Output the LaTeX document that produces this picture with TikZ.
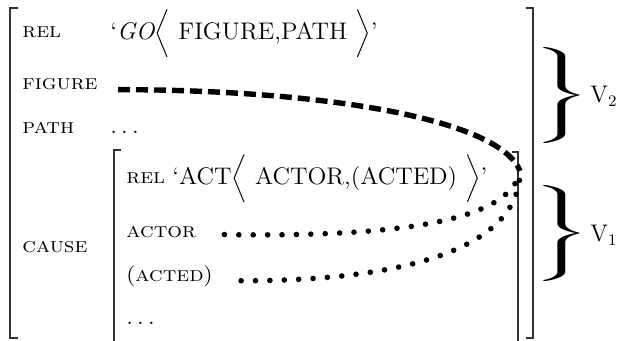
\documentclass[tikz,border=0pt]{standalone}
\usepackage{tikz}
\usetikzlibrary{positioning}
\tikzset{
  attrName/.style={font=\fontsize{10.5}{12.6}\selectfont, xscale=1.1, inner sep=0pt, anchor=base west},
  attrValue/.style={font=\fontsize{12}{14.4}\selectfont, xscale=1.03, inner sep=0pt, anchor=base west},
  bracketLine/.style={line width=0.6pt, black!80},
  braceNode/.style={font=\fontsize{10}{12}\selectfont, xscale=3.3, inner sep=0pt},
  vLabel/.style={font=\fontsize{12}{14}\selectfont, inner sep=0pt, anchor=base west},
  goLine/.style={line width=2.7pt, dash pattern=on 6pt off 3pt},
  actLine/.style={line width=2.8pt, line cap=round, dash pattern=on 0pt off 7.2pt}
}
\begin{document}
\begin{tikzpicture}[x=0.5pt, y=-0.5pt]
\useasboundingbox (0,0) rectangle (623,341);
% outer matrix
\draw[bracketLine] (18,8) -- (10,8) -- (10,338) -- (18,338);
\draw[bracketLine] (526,8) -- (533,8) -- (533,338) -- (526,338);
\node[attrName] (goRel) at (22,38) {\textsc{rel}};
\node[attrValue] (goVal) at (110,40) {`\textit{GO}$\bigg\langle$ FIGURE,PATH $\bigg\rangle$'};
\node[attrName] (figure) at (22,90) {\textsc{figure}};
\node[attrName] (path) at (22,134) {\textsc{path}};
\node[attrValue] (pathVal) at (110,134) {$\ldots$};
\node[attrName] (cause) at (22,253) {\textsc{cause}};
% inner matrix
\draw[bracketLine] (121,150) -- (114,150) -- (114,345);
\draw[bracketLine] (512,152) -- (518,152) -- (518,345);
\node[attrName] (actRel) at (126,184) {\textsc{rel}};
\node[attrValue] (actVal) at (172,185) {`ACT$\bigg\langle$ ACTOR,(ACTED) $\bigg\rangle$'};
\node[attrName] (actor) at (126,238) {\textsc{actor}};
\node[attrName] (acted) at (126,282) {(\textsc{acted})};
\node[attrValue] (actMore) at (126,325) {$\ldots$};
% links
\coordinate (hub) at (520,171);
\draw[goLine] ([xshift=10pt,yshift=-2.5pt]figure.east) .. controls (330,90) and (500,120) .. (hub);
\draw[actLine] ([xshift=14pt,yshift=-1pt]actor.east) .. controls (380,237) and (510,225) .. (hub);
\draw[actLine] ([xshift=14pt,yshift=-2pt]acted.east) .. controls (400,281) and (520,250) .. (hub);
% braces
\node[braceNode] (v2Brace) at (562,97) {\nulldelimiterspace=0pt$\left.\vrule height 27pt depth 23pt width 0pt\right\}$};
\node[vLabel] (v2) at (590,103) {V$_2$};
\node[braceNode] (v1Brace) at (562,235) {\nulldelimiterspace=0pt$\left.\vrule height 27pt depth 23pt width 0pt\right\}$};
\node[vLabel] (v1) at (590,242) {V$_1$};
\end{tikzpicture}
\end{document}
